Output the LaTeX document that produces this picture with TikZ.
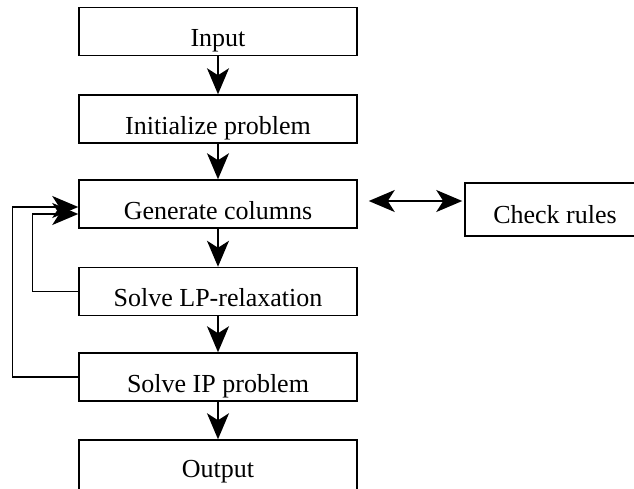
\documentclass[tikz,border=0pt]{standalone}
\usepackage{fontspec}
\setmainfont{Liberation Serif}
\usetikzlibrary{arrows.meta}
\begin{document}
\begin{tikzpicture}[x=1pt,y=-1pt,line width=1.5pt,
  >={Stealth[length=26pt,width=22pt,inset=7pt]},
  box/.style={draw,minimum width=278pt,minimum height=48pt,inner sep=0pt,
    text height=30pt,text depth=0pt,font=\fontsize{26}{30}\selectfont}]
\useasboundingbox (0,0) rectangle (634,488);
\node[box] (in) at (218,31.5) {Input};
\node[box] (init) at (218,119) {Initialize problem};
\node[box] (gen) at (218,204) {Generate columns};
\node[box] (lp) at (218,291.5) {Solve LP-relaxation};
\node[box] (ip) at (218,377) {Solve IP problem};
\node[box,minimum height=52pt,text height=22pt] (out) at (218,466) {Output};
\node[box,minimum width=180pt,minimum height=53pt,text height=27pt] (chk) at (555,209.5) {Check rules};
\draw[->] (in) -- (init);
\draw[->] (init) -- (gen);
\draw[->] (gen) -- (lp);
\draw[->] (lp) -- (ip);
\draw[->] (ip) -- (out);
\draw[<->,shorten <=11pt,shorten >=2pt] ([yshift=3pt]gen.east) -- ([yshift=3pt]gen.east -| chk.west);
\draw[->] (ip.west) -- ++(-66,0) |- ([yshift=-3pt]gen.west);
\draw[->] (lp.west) -- ++(-46,0) |- ([yshift=-10pt]gen.west);
\end{tikzpicture}
\end{document}
